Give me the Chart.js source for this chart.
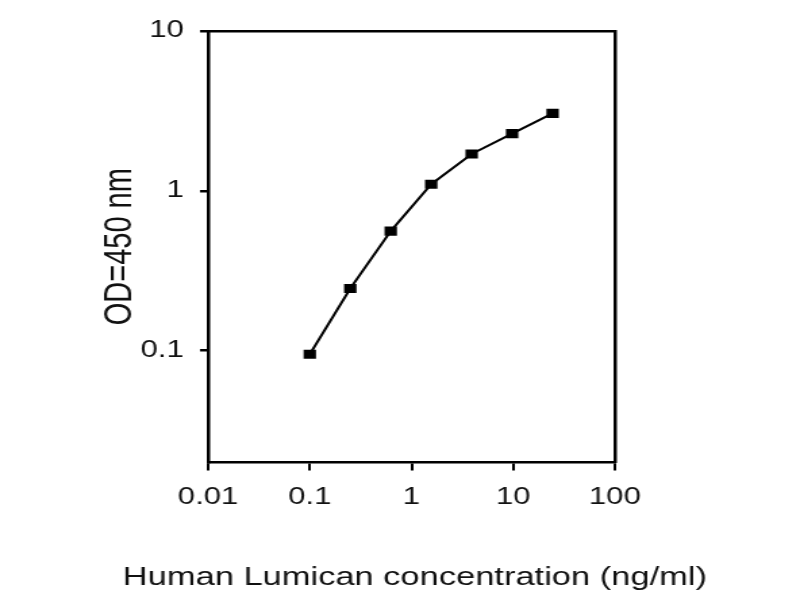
<!DOCTYPE html>
<html>
<head>
<meta charset="utf-8">
<script src="https://cdn.jsdelivr.net/npm/chart.js@4/dist/chart.umd.min.js"></script>
<style>
  html, body { margin: 0; padding: 0; background: #fff; }
</style>
</head>
<body>
<canvas id="c" width="592" height="600" style="width:800px;height:600px;display:block"></canvas>
<script>
// Data
const concentrations = [0.1, 0.25, 0.625, 1.5625, 3.906, 9.766, 24.41];
const odValues = [0.095, 0.245, 0.56, 1.1, 1.7, 2.28, 3.05];
const xTickValues = [0.01, 0.1, 1, 10, 100];
const yTickValues = [0.1, 1, 10];
const xTitle = 'Human Lumican concentration (ng/ml)';
const yTitle = 'OD=450 nm';

const FONT = '"Liberation Sans", Arial, sans-serif';
const INK = '#111';
const points = concentrations.map((x, i) => ({ x: x, y: odValues[i] }));

new Chart(document.getElementById('c'), {
  type: 'line',
  data: {
    datasets: [{
      data: points,
      borderColor: '#000',
      backgroundColor: '#000',
      borderWidth: 2,
      pointStyle: 'rect',
      pointRadius: 6.5,
      pointBorderWidth: 0,
      tension: 0,
      fill: false
    }]
  },
  options: {
    responsive: false,
    devicePixelRatio: 1,
    animation: false,
    layout: { padding: { left: 72, right: 50, top: 31, bottom: 0 } },
    plugins: {
      legend: { display: false },
      tooltip: { enabled: false },
      title: {
        display: true, position: 'bottom', text: xTitle,
        font: { family: FONT, size: 25.5, weight: 'normal' }, color: INK,
        padding: { top: 0, bottom: 7 }
      }
    },
    scales: {
      x: {
        type: 'logarithmic', position: 'bottom', min: 0.01, max: 100,
        afterBuildTicks: s => { s.ticks = xTickValues.map(v => ({ value: v })); },
        afterFit: s => { s.height = 100; },
        ticks: { callback: v => String(v), font: { family: FONT, size: 23 }, color: INK, padding: 13, maxRotation: 0, autoSkip: false },
        grid: { drawOnChartArea: false, tickLength: 8, color: '#000', lineWidth: 2 },
        border: { color: '#000', width: 2.5 }
      },
      y: {
        type: 'logarithmic', position: 'left', min: 0.02, max: 10,
        afterBuildTicks: s => { s.ticks = yTickValues.map(v => ({ value: v })); },
        afterFit: s => { s.width = 82; },
        ticks: { callback: v => String(v), font: { family: FONT, size: 23 }, color: INK, padding: 12 },
        grid: { drawOnChartArea: false, tickLength: 6, color: '#000', lineWidth: 2.5 },
        border: { color: '#000', width: 2.5 },
        title: { display: true, text: yTitle, font: { family: FONT, size: 29 }, color: INK, padding: 0 }
      },
      x2: {
        type: 'logarithmic', position: 'top', min: 0.01, max: 100,
        afterFit: s => { s.height = 0; },
        ticks: { display: false },
        grid: { display: false, drawTicks: false },
        border: { display: true, color: '#000', width: 2.5 }
      },
      y2: {
        type: 'logarithmic', position: 'right', min: 0.02, max: 10,
        afterFit: s => { s.width = 87; },
        ticks: { display: false },
        grid: { display: false, drawTicks: false },
        border: { display: true, color: '#000', width: 2.5 }
      }
    }
  }
});
</script>
</body>
</html>
